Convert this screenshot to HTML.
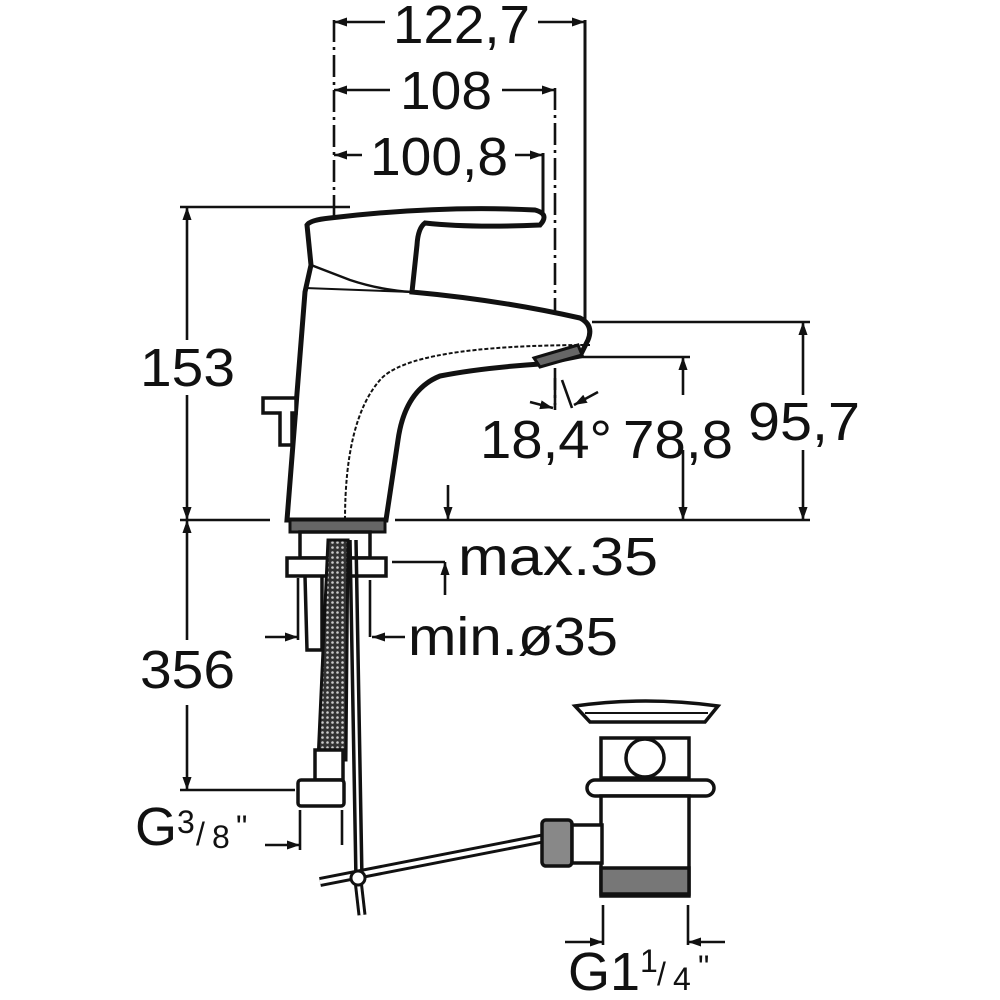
<!DOCTYPE html>
<html><head><style>html,body{margin:0;padding:0;background:#fff}svg{display:block}text{font-family:"Liberation Sans",Arial,sans-serif;fill:#111}</style></head>
<body>
<svg width="1000" height="1000" viewBox="0 0 1000 1000" xmlns="http://www.w3.org/2000/svg">
<defs>
<marker id="a" viewBox="0 0 10 10" refX="10" refY="5" markerWidth="5" markerHeight="5" orient="auto-start-reverse"><path d="M0,1.5 L10,5 L0,8.5z" fill="#111"/></marker>
<pattern id="h" width="5" height="5" patternUnits="userSpaceOnUse"><rect width="5" height="5" fill="#333"/><circle cx="2.5" cy="2.5" r="1.3" fill="#ccc"/></pattern>
</defs>
<g stroke="#111" fill="none" stroke-width="2.6">
<line x1="334" y1="22" x2="385" y2="22" marker-start="url(#a)"/>
<line x1="538" y1="22" x2="585" y2="22" marker-end="url(#a)"/>
<line x1="334" y1="90" x2="390" y2="90" marker-start="url(#a)"/>
<line x1="502" y1="90" x2="555" y2="90" marker-end="url(#a)"/>
<line x1="334" y1="155" x2="362" y2="155" marker-start="url(#a)"/>
<line x1="515" y1="155" x2="543" y2="155" marker-end="url(#a)"/>
<line x1="585" y1="20" x2="585" y2="325" stroke-width="3"/>
<line x1="543" y1="153" x2="543" y2="212" stroke-width="3"/>
<line x1="555" y1="88" x2="555" y2="405" stroke-dasharray="22,5,3,5"/>
<line x1="334" y1="20" x2="334" y2="530" stroke-dasharray="22,5,3,5"/>
<line x1="333" y1="530" x2="333" y2="600" stroke-dasharray="22,5,3,5"/>
<line x1="180" y1="207" x2="350" y2="207"/>
<line x1="187" y1="207" x2="187" y2="340" marker-start="url(#a)"/>
<line x1="187" y1="395" x2="187" y2="520" marker-end="url(#a)"/>
<line x1="180" y1="520" x2="270" y2="520"/>
<line x1="395" y1="520" x2="810" y2="520"/>
<line x1="187" y1="520" x2="187" y2="640" marker-start="url(#a)"/>
<line x1="187" y1="705" x2="187" y2="790" marker-end="url(#a)"/>
<line x1="180" y1="790" x2="295" y2="790"/>
<line x1="592" y1="322" x2="810" y2="322"/>
<line x1="803" y1="322" x2="803" y2="395" marker-start="url(#a)"/>
<line x1="803" y1="450" x2="803" y2="520" marker-end="url(#a)"/>
<line x1="575" y1="357" x2="690" y2="357"/>
<line x1="683" y1="357" x2="683" y2="395" marker-start="url(#a)"/>
<line x1="683" y1="450" x2="683" y2="520" marker-end="url(#a)"/>
<line x1="448" y1="485" x2="448" y2="520" marker-end="url(#a)"/>
<line x1="555" y1="378" x2="555" y2="410"/>
<line x1="562" y1="380" x2="572" y2="408"/>
<line x1="530" y1="402" x2="553" y2="408" marker-end="url(#a)"/>
<line x1="598" y1="392" x2="574" y2="405" marker-end="url(#a)"/>
<path d="M287,520 L305,292 L311,265 L307,225 Q310,220 330,218 Q440,205 535,210 Q550,214 540,225 Q470,228 425,223 Q418,228 417,245 L412,292 Q500,300 580,318 Q594,325 588,340 L580,356 L540,364 Q480,368 440,376 Q405,390 398,440 L386,520 Z" stroke-width="5" fill="#fff"/>
<path d="M311,265 L350,280 Q380,290 412,292" stroke-width="2.5"/>
<path d="M305,288 L412,292" stroke-width="2"/>
<path d="M345,520 Q345,420 380,380 Q410,345 590,345" stroke-width="2" stroke-dasharray="4,2"/>
<path d="M534,358 L578,345 L582,355 L540,367 Z" fill="#666" stroke-width="3"/>
<path d="M263,398 L296,398 L296,413 L292,413 L292,445 L280,445 L280,413 L263,413 Z" stroke-width="3.5" fill="#fff"/>
<rect x="290" y="520" width="95" height="12" fill="#666" stroke-width="3"/>
<rect x="300" y="532" width="70" height="26" stroke-width="3.5" fill="#fff"/>
<rect x="287" y="558" width="99" height="18" stroke-width="3.5" fill="#fff"/>
<path d="M305,576 L307,650 L322,650 L322,576" stroke-width="3.5"/>
<path d="M328,540 L348,540 L346,760 L318,760 Z" fill="url(#h)" stroke-width="3"/>
<rect x="315" y="750" width="28" height="30" stroke-width="3.5" fill="#fff"/>
<rect x="298" y="780" width="46" height="26" rx="3" stroke-width="3.5" fill="#fff"/>
<path d="M350,540 L356,880 L362,880 L356,540" stroke-width="3.5"/>
<line x1="358" y1="880" x2="362" y2="915" stroke-width="9"/>
<line x1="358" y1="880" x2="362" y2="915" stroke="#fff" stroke-width="3"/>
<line x1="320" y1="882" x2="545" y2="838" stroke-width="10"/>
<line x1="320" y1="882" x2="545" y2="838" stroke="#fff" stroke-width="4"/>
<circle cx="358" cy="878" r="7" fill="#fff" stroke-width="3"/>
<line x1="300" y1="810" x2="300" y2="850"/><line x1="342" y1="810" x2="342" y2="845"/>
<line x1="265" y1="845" x2="300" y2="845" marker-end="url(#a)"/>
<line x1="298" y1="578" x2="298" y2="640"/>
<line x1="265" y1="637" x2="298" y2="637" marker-end="url(#a)"/>
<line x1="370" y1="580" x2="370" y2="637"/>
<line x1="405" y1="637" x2="372" y2="637" marker-end="url(#a)"/>
<line x1="392" y1="562" x2="445" y2="562"/>
<line x1="445" y1="595" x2="445" y2="562" marker-end="url(#a)"/>
<path d="M575,706 Q645,696 718,706 L705,722 L590,722 Z" stroke-width="3.5" fill="#fff"/>
<line x1="585" y1="713" x2="708" y2="713" stroke-width="2"/>
<rect x="601" y="738" width="88" height="40" stroke-width="3.5" fill="#fff"/>
<circle cx="645" cy="758" r="19" stroke-width="3.5" fill="#fff"/>
<rect x="587" y="780" width="127" height="16" rx="8" stroke-width="3.5" fill="#fff"/>
<rect x="601" y="796" width="88" height="100" stroke-width="3.5" fill="#fff"/>
<rect x="601" y="868" width="88" height="26" fill="#777" stroke-width="3.5"/>
<rect x="542" y="820" width="30" height="46" rx="4" fill="#888" stroke-width="3.5"/>
<rect x="572" y="825" width="30" height="38" stroke-width="3.5" fill="#fff"/>
<line x1="603" y1="905" x2="603" y2="945"/><line x1="688" y1="905" x2="688" y2="945"/>
<line x1="565" y1="942" x2="603" y2="942" marker-end="url(#a)"/>
<line x1="725" y1="942" x2="688" y2="942" marker-end="url(#a)"/>
</g>
<g font-size="54">
<text x="393" y="43" textLength="137" lengthAdjust="spacingAndGlyphs">122,7</text>
<text x="400" y="109" textLength="92" lengthAdjust="spacingAndGlyphs">108</text>
<text x="370" y="175" textLength="138" lengthAdjust="spacingAndGlyphs">100,8</text>
<text x="140" y="386" textLength="95" lengthAdjust="spacingAndGlyphs">153</text>
<text x="140" y="688" textLength="95" lengthAdjust="spacingAndGlyphs">356</text>
<text x="480" y="458" textLength="132" lengthAdjust="spacingAndGlyphs">18,4°</text>
<text x="623" y="458" textLength="110" lengthAdjust="spacingAndGlyphs">78,8</text>
<text x="748" y="440" textLength="112" lengthAdjust="spacingAndGlyphs">95,7</text>
<text x="458" y="575" textLength="200" lengthAdjust="spacingAndGlyphs">max.35</text>
<text x="408" y="655" textLength="210" lengthAdjust="spacingAndGlyphs">min.ø35</text>
<text x="135" y="845">G</text>
<text x="568" y="990">G1</text>
</g>
<g font-size="32">
<text x="177" y="833">3</text><text x="196" y="845">/</text><text x="212" y="848">8</text><text x="236" y="838">"</text>
<text x="640" y="972">1</text><text x="657" y="985">/</text><text x="673" y="990">4</text><text x="698" y="978">"</text>
</g>
</svg>
</body></html>
